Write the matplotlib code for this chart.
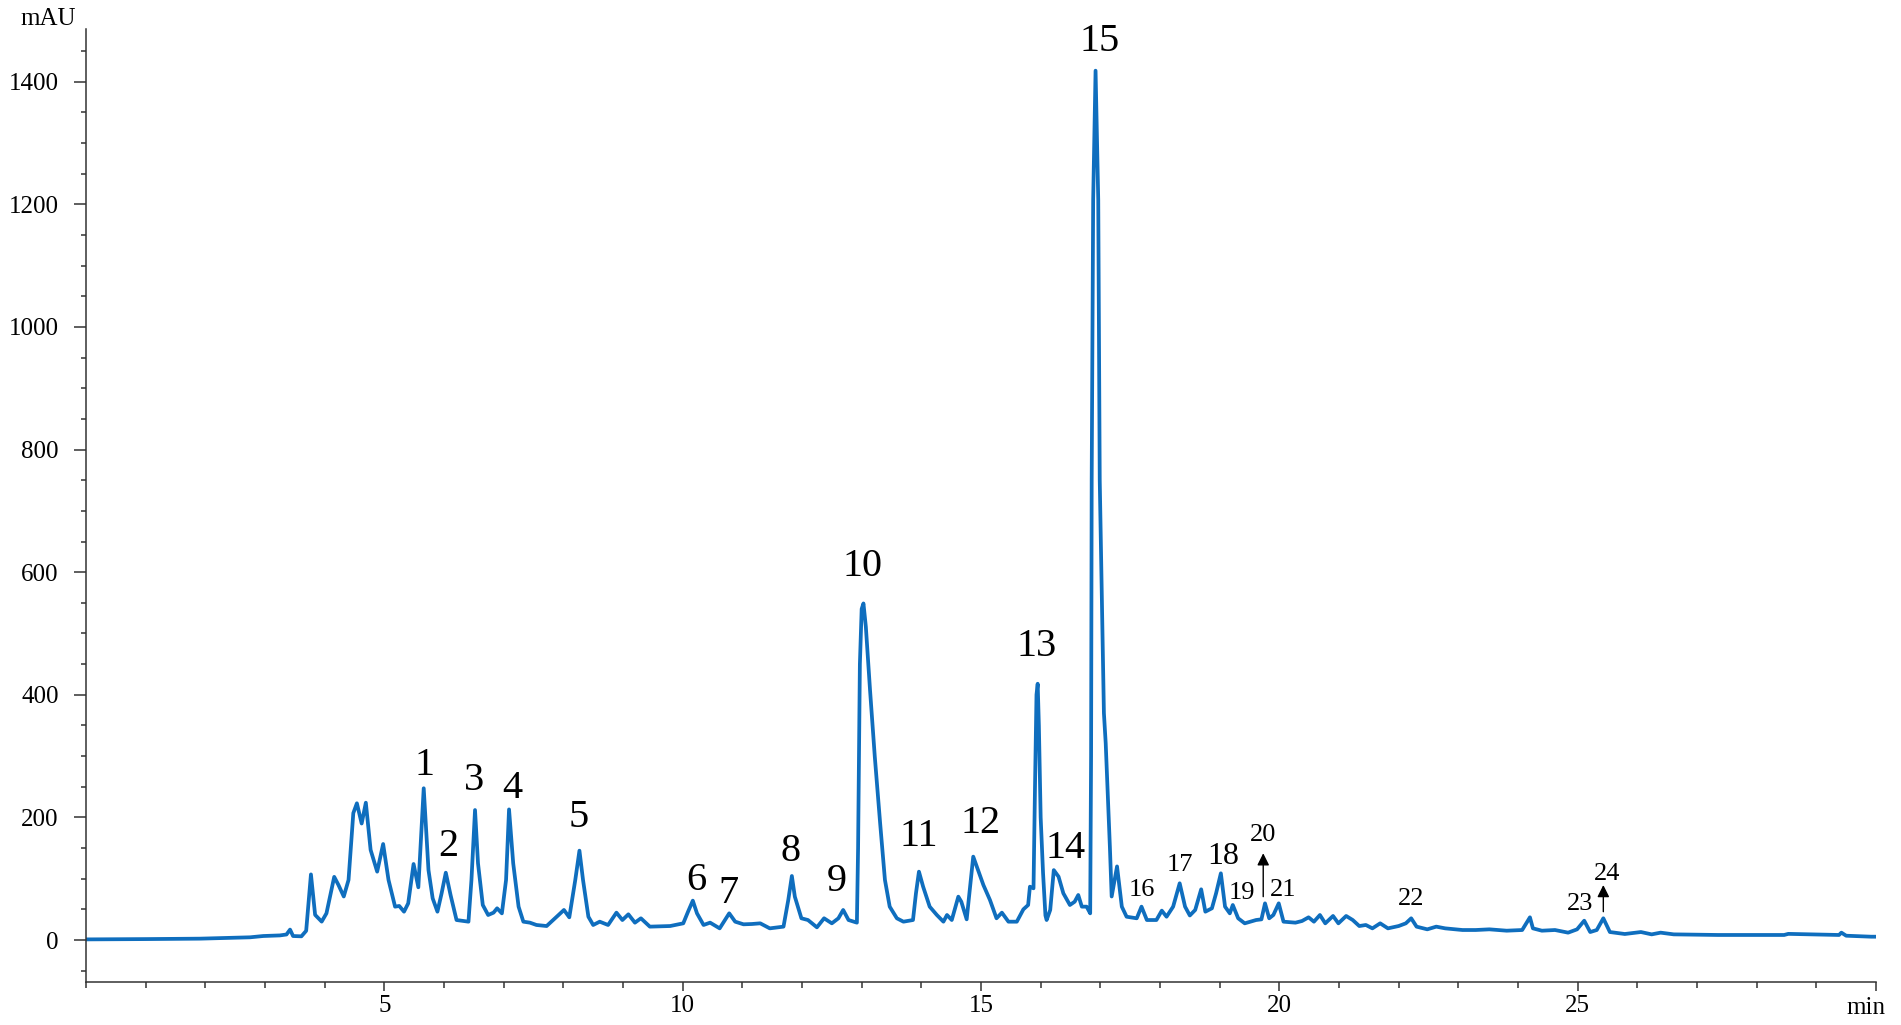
import matplotlib
matplotlib.use('Agg')
import matplotlib.pyplot as plt
from matplotlib.ticker import MultipleLocator

plt.rcParams['font.family'] = ['Liberation Serif', 'DejaVu Serif']

# Chromatogram trace (retention time in min, absorbance in mAU)
time_min = [
    0.00, 1.00, 1.91, 2.75, 2.97, 3.25, 3.36, 3.42, 3.47, 3.61, 3.69, 3.73, 3.77, 3.84, 3.95,
    4.03, 4.16, 4.23, 4.32, 4.40, 4.48, 4.54, 4.62, 4.69, 4.77, 4.88, 4.98, 5.07, 5.18, 5.25,
    5.33, 5.40, 5.49, 5.57, 5.66, 5.74, 5.81, 5.89, 5.96, 6.03, 6.11, 6.21, 6.41, 6.46, 6.52,
    6.57, 6.65, 6.74, 6.83, 6.89, 6.97, 7.04, 7.09, 7.16, 7.25, 7.33, 7.44, 7.55, 7.72, 7.83,
    7.92, 8.01, 8.10, 8.20, 8.27, 8.33, 8.42, 8.50, 8.61, 8.75, 8.89, 8.99, 9.09, 9.20, 9.30,
    9.45, 9.79, 10.01, 10.09, 10.17, 10.24, 10.35, 10.46, 10.62, 10.71, 10.78, 10.88, 11.02,
    11.16, 11.30, 11.46, 11.69, 11.77, 11.83, 11.88, 11.99, 12.10, 12.25, 12.37, 12.50, 12.61,
    12.69, 12.78, 12.92, 12.94, 12.97, 13.00, 13.03, 13.07, 13.14, 13.22, 13.31, 13.39, 13.47,
    13.59, 13.70, 13.86, 13.91, 13.96, 14.03, 14.14, 14.26, 14.37, 14.43, 14.51, 14.62, 14.67,
    14.76, 14.87, 14.95, 15.04, 15.15, 15.26, 15.35, 15.46, 15.60, 15.71, 15.79, 15.82, 15.88,
    15.905, 15.93, 15.95, 15.97, 16.00, 16.04, 16.08, 16.10, 16.16, 16.22, 16.30, 16.38, 16.49,
    16.57, 16.63, 16.69, 16.77, 16.83, 16.845, 16.855, 16.88, 16.92, 16.965, 16.99, 17.06,
    17.09, 17.16, 17.19, 17.28, 17.36, 17.44, 17.61, 17.69, 17.78, 17.94, 18.03, 18.11, 18.22,
    18.33, 18.42, 18.50, 18.59, 18.69, 18.76, 18.87, 18.94, 19.02, 19.09, 19.17, 19.22, 19.31,
    19.42, 19.61, 19.70, 19.76, 19.83, 19.90, 19.99, 20.07, 20.27, 20.38, 20.49, 20.58, 20.68,
    20.77, 20.90, 20.99, 21.12, 21.23, 21.34, 21.45, 21.56, 21.69, 21.82, 22.00, 22.12, 22.21,
    22.30, 22.48, 22.63, 22.78, 23.07, 23.29, 23.52, 23.81, 24.07, 24.20, 24.25, 24.40, 24.62,
    24.84, 24.99, 25.11, 25.21, 25.32, 25.43, 25.54, 25.79, 26.06, 26.24, 26.39, 26.61, 27.35,
    28.46, 28.53, 29.38, 29.42, 29.50, 29.92, 30.00,
]
absorbance_mAU = [
    1.0, 1.5, 2.2, 4.4, 6.5, 7.5, 9.0, 17.0, 6.5, 6.0, 15.0, 60.0, 107.0, 41.0, 30.0,
    43.5, 103.0, 90.0, 71.0, 98.0, 207.0, 223.0, 190.0, 224.0, 147.0, 111.5, 156.6, 98.0, 54.4, 55.5,
    46.2, 59.8, 124.0, 86.0, 247.5, 114.0, 68.0, 46.2, 76.2, 109.8, 73.4, 32.6, 29.9, 97.9, 212.0,
    125.0, 57.1, 40.8, 44.6, 51.7, 43.5, 97.9, 213.0, 125.0, 54.4, 29.9, 28.3, 24.5, 22.8, 32.6,
    40.8, 49.0, 37.0, 97.9, 145.7, 97.9, 38.0, 24.5, 29.9, 24.5, 44.6, 32.6, 41.9, 28.3, 35.4,
    21.8, 22.8, 27.2, 46.2, 64.2, 43.5, 24.5, 28.3, 19.0, 32.6, 43.5, 29.9, 25.6,
    26.1, 27.2, 19.0, 21.8, 65.3, 104.4, 70.7, 35.4, 32.6, 20.7, 35.4, 27.2, 35.4,
    49.0, 32.6, 28.3, 150.0, 450.0, 540.0, 549.0, 511.0, 408.0, 299.0, 190.0, 98.0, 54.4,
    35.4, 29.9, 32.6, 76.2, 111.5, 87.0, 54.4, 40.8, 29.9, 40.8, 32.6, 70.7, 62.5,
    33.7, 136.0, 114.0, 89.7, 65.3, 35.4, 44.6, 29.9, 29.9, 50.0, 57.1, 87.0, 84.3,
    250.0, 400.0, 418.0, 350.0, 200.0, 109.0, 40.0, 32.6, 49.0, 114.0, 103.3, 76.2, 57.1,
    62.5, 73.4, 54.4, 54.4, 43.5, 300.0, 750.0, 1207.0, 1418.0, 1207.0, 750.0, 370.0,
    321.0, 152.0, 71.0, 120.0, 54.4, 38.0, 35.4, 54.4, 32.6, 32.6, 47.9, 38.0, 54.4,
    92.5, 54.4, 40.0, 49.0, 82.7, 46.2, 51.7, 76.2, 108.8, 54.4, 43.5, 57.1, 35.4,
    27.2, 32.6, 33.7, 59.8, 35.4, 40.8, 59.8, 29.9, 28.3, 31.0, 37.0, 29.9, 40.8,
    27.2, 39.2, 27.2, 39.2, 32.6, 22.8, 24.5, 19.0, 27.2, 19.0, 22.8, 27.2, 35.4,
    21.8, 17.4, 21.8, 19.0, 16.3, 16.3, 17.4, 15.2, 16.3, 37.0, 19.0, 15.2, 16.3,
    12.0, 17.4, 31.5, 13.0, 16.3, 35.4, 13.0, 9.8, 13.0, 9.2, 12.0, 9.2, 8.2,
    8.2, 10.0, 8.2, 12.0, 7.0, 5.4, 5.4,
]

# Peak numbering
peak_labels = [str(i) for i in range(1, 25)]
label_time = [5.665, 6.07, 6.51, 7.14, 8.255, 10.235, 10.765, 11.81, 12.59, 13.015, 13.965, 15.0,
              15.94, 16.42, 16.99, 17.69, 18.34, 19.06, 19.37, 19.73, 20.07, 22.21, 25.04, 25.485]
label_mAU = [285.0, 153.0, 260.4, 246.9, 199.6, 97.3, 75.6, 143.6, 94.7, 608.6, 168.1, 189.8,
             478.0, 149.0, 1465.0, 81.4, 122.6, 135.7, 77.4, 171.1, 81.4, 67.2, 59.5, 108.4]
label_size = [29] * 15 + [19, 19, 23, 19, 19, 19, 19, 19, 19]

# Arrows for peaks 20 and 24: (time, tail mAU, head mAU)
arrow_time = [19.73, 25.43]
arrow_tail = [70.7, 46.2]
arrow_head = [141.5, 89.7]

x_major = [5, 10, 15, 20, 25, 30]
x_major_labels = ['5', '10', '15', '20', '25', '']
y_major = [0, 200, 400, 600, 800, 1000, 1200, 1400]

W, H = 1901, 1025
fig = plt.figure(figsize=(W / 100, H / 100), dpi=100)
ax = fig.add_axes([86 / W, 1 - 982 / H, (1876 - 86) / W, (982 - 29) / H])

ax.plot(time_min, absorbance_mAU, color='#0F6EBE', lw=2.7,
        solid_joinstyle='round', solid_capstyle='round')

ax.set_xlim(0, 30)
ax.set_ylim(-68.5, 1486)
for s in ['top', 'right']:
    ax.spines[s].set_visible(False)
for s in ['left', 'bottom']:
    ax.spines[s].set_linewidth(1.1)
    ax.spines[s].set_color('#333333')

ax.set_xticks(x_major)
ax.set_xticklabels(x_major_labels)
ax.xaxis.set_minor_locator(MultipleLocator(1))
ax.set_yticks(y_major)
ax.set_yticklabels([str(v) for v in y_major])
ax.yaxis.set_minor_locator(MultipleLocator(50))

ax.tick_params(axis='y', which='major', length=8.6, width=1.1, color='#333333',
               pad=11, labelsize=18)
ax.tick_params(axis='y', which='minor', length=3.6, width=1.1, color='#333333')
ax.tick_params(axis='x', which='major', length=6.5, width=1.1, color='#333333',
               pad=3, labelsize=18)
ax.tick_params(axis='x', which='minor', length=4.3, width=1.1, color='#333333')

for lab, t, v, fs in zip(peak_labels, label_time, label_mAU, label_size):
    ax.text(t, v, lab, ha='center', va='center', fontsize=fs, color='black')

for t, v0, v1 in zip(arrow_time, arrow_tail, arrow_head):
    ax.annotate('', xy=(t, v1), xytext=(t, v0),
                arrowprops=dict(arrowstyle='-|>,head_length=0.72,head_width=0.36',
                                mutation_scale=10, lw=1.0, color='black',
                                shrinkA=0, shrinkB=0))

fig.text(48 / W, 1 - 19 / H, 'mAU', ha='center', va='center', fontsize=18)
fig.text(1866 / W, 1 - 1008 / H, 'min', ha='center', va='center', fontsize=18)

fig.savefig('out.png', dpi=100, facecolor='white')
